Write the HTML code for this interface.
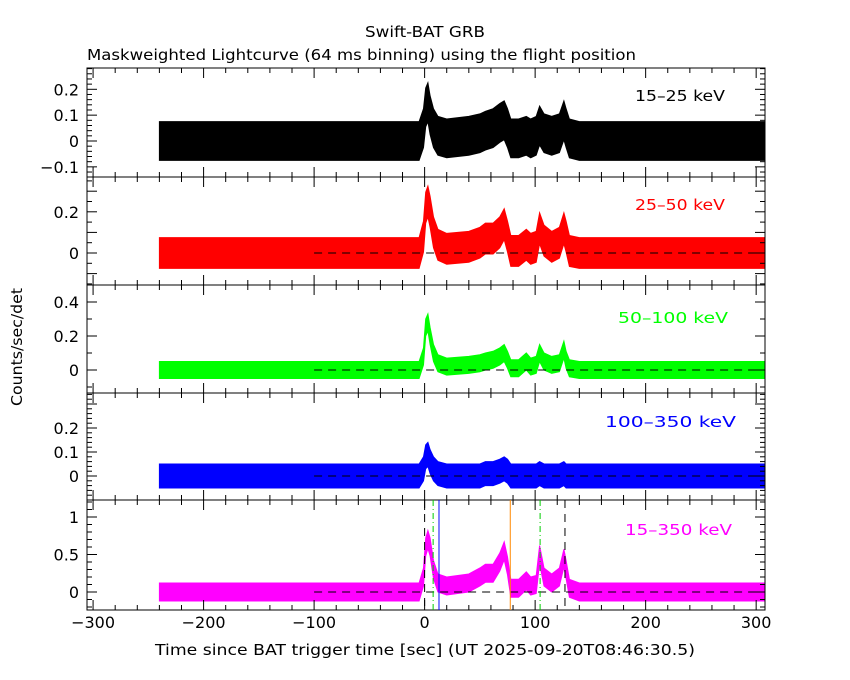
<!DOCTYPE html>
<html><head><meta charset="utf-8"><style>
body{margin:0;background:#fff;}
svg{display:block;font-family:"DejaVu Sans","Liberation Sans",sans-serif;}
</style></head><body>
<svg id="c" width="850" height="680" viewBox="0 0 850 680">
<text x="365" y="37" font-size="15" textLength="120" lengthAdjust="spacingAndGlyphs">Swift-BAT GRB</text>
<text x="87" y="60" font-size="15" textLength="549" lengthAdjust="spacingAndGlyphs">Maskweighted Lightcurve (64 ms binning) using the flight position</text>
<text transform="translate(22,347) rotate(-90)" font-size="15" text-anchor="middle" textLength="118" lengthAdjust="spacingAndGlyphs">Counts/sec/det</text>
<text x="155" y="655" font-size="15" textLength="540" lengthAdjust="spacingAndGlyphs">Time since BAT trigger time [sec] (UT 2025-09-20T08:46:30.5)</text>
</svg>
<script>
const T = [-240,-5,-1,1,3,5,8,12,20,40,50,55,62,68,72,75,78,85,92,96,101,104,108,115,122,126,128,131,140,308];
const m1525 = [0,0,0.05,0.13,0.15,0.1,0.05,0.02,0.01,0.02,0.03,0.04,0.05,0.07,0.08,0.05,0.01,0.01,0.02,0.01,0.02,0.06,0.03,0.02,0.03,0.08,0.05,0.01,0,0];
const m2550 = [0,0,0.08,0.22,0.25,0.2,0.1,0.04,0.02,0.03,0.05,0.07,0.07,0.1,0.14,0.08,0.01,0.01,0.04,0.02,0.03,0.12,0.06,0.03,0.05,0.12,0.08,0.01,0,0];
const m50100 = [0,0,0.08,0.25,0.28,0.2,0.1,0.04,0.02,0.03,0.04,0.05,0.06,0.08,0.1,0.06,0.01,0.01,0.05,0.02,0.03,0.1,0.05,0.03,0.04,0.12,0.06,0.01,0,0];
const m100350 = [0,0,0.03,0.08,0.09,0.06,0.03,0.01,0,0,0,0.01,0.01,0.02,0.03,0.02,0,0,0,0,0,0.01,0,0,0,0.01,0,0,0,0];
const m15350 = [0,0,0.2,0.6,0.7,0.6,0.3,0.12,0.08,0.12,0.2,0.25,0.25,0.4,0.55,0.35,0.05,0.05,0.15,0.08,0.1,0.5,0.2,0.12,0.2,0.45,0.3,0.05,0,0];
const noise = [0.075,0.075,0.05,0.05,0.12];
const bandLabels = ["15\u201325 keV","25\u201350 keV","50\u2013100 keV","100\u2013350 keV","15\u2013350 keV"];
const xTicks = [-300,-200,-100,0,100,200,300];
const markersDashed = [0,127];
const markersGreen = [7.7,104.5];
const markerBlue = 13;
const markerOrange = 77.5;

const svg = document.getElementById('c');
const NS = 'http://www.w3.org/2000/svg';
const X0 = 87, X1 = 765, TMIN = -305.5, TMAX = 308;
const xs = t => X0 + (t - TMIN) / (TMAX - TMIN) * (X1 - X0);
function mk(tag, attrs, parent){const e=document.createElementNS(NS,tag);for(const k in attrs)e.setAttribute(k,attrs[k]);(parent||svg).appendChild(e);return e;}

const panels = [
 {top:68,bot:177,zero:141,ppu:258.5,major:0.1,minor:0.02,labels:[-0.1,0,0.1,0.2],color:'#000',m:m1525,lx:635,ly:101,lw:90,zl:false},
 {top:177,bot:285,zero:253,ppu:206,major:0.1,minor:0.05,labels:[0,0.2],color:'#f00',m:m2550,lx:635,ly:210,lw:90,zl:true},
 {top:285,bot:393,zero:370,ppu:170,major:0.2,minor:0.1,labels:[0,0.2,0.4],color:'#0f0',m:m50100,lx:618,ly:323,lw:110,zl:true},
 {top:393,bot:500,zero:476,ppu:240,major:0.1,minor:0.02,labels:[0,0.1,0.2],color:'#00f',m:m100350,lx:605,ly:427,lw:131,zl:true},
 {top:500,bot:610,zero:592,ppu:75,major:0.5,minor:0.1,labels:[0,0.5,1],color:'#f0f',m:m15350,lx:625,ly:535,lw:107,zl:true}
];
const names=['15-25','25-50','50-100','100-350','15-350'];
panels.forEach((p,i)=>{
  const g = mk('g',{});
  
  
  const ys = v => p.zero - v*p.ppu;
  let up=[],lo=[];
  T.forEach((t,j)=>{up.push(xs(t).toFixed(1)+','+ys(p.m[j]+noise[i]).toFixed(1));lo.push(xs(t).toFixed(1)+','+ys(p.m[j]-noise[i]).toFixed(1));});
  const poly = mk('polygon',{points:up.concat(lo.reverse()).join(' '),fill:p.color,stroke:p.color,'stroke-width':1},g);
  
  
  if(p.zl){
    const zl = mk('line',{x1:xs(-100),x2:X1,y1:p.zero,y2:p.zero,stroke:'#000','stroke-dasharray':'8,6'},g);
    
    
  }
  const fr = mk('rect',{x:X0,y:p.top,width:X1-X0,height:p.bot-p.top,fill:'none',stroke:'#000'},g);
  
  
  for(let t=-300;t<=300;t+=20){
    const L = (t%100===0)?10:5;
    mk('line',{x1:xs(t),x2:xs(t),y1:p.top,y2:p.top+L,stroke:'#000'},g);
    mk('line',{x1:xs(t),x2:xs(t),y1:p.bot,y2:p.bot-L,stroke:'#000'},g);
  }
  const vmin=(p.zero-p.bot)/p.ppu, vmax=(p.zero-p.top)/p.ppu;
  for(let v=Math.ceil(vmin/p.minor)*p.minor; v<=vmax+1e-9; v+=p.minor){
    const isMaj = Math.abs(v/p.major-Math.round(v/p.major))<1e-6;
    const L=isMaj?10:5, y=ys(v);
    mk('line',{x1:X0,x2:X0+L,y1:y,y2:y,stroke:'#000'},g);
    mk('line',{x1:X1,x2:X1-L,y1:y,y2:y,stroke:'#000'},g);
  }
  p.labels.forEach(v=>{
    const t = mk('text',{x:X0-8,y:ys(v)+6,'font-size':16,'text-anchor':'end'},g);
    t.textContent = v<0?('\u2212'+Math.abs(v)):String(v);
    
    
  });
  const lb = mk('text',{x:p.lx,y:p.ly,'font-size':15,fill:p.color,textLength:p.lw,lengthAdjust:'spacingAndGlyphs'},g);
  lb.textContent = bandLabels[i];
  
  
});
const P=panels[4];
markersDashed.forEach(t=>{const l=mk('line',{x1:xs(t),x2:xs(t),y1:P.top,y2:P.bot,stroke:'#000','stroke-dasharray':'8,6'});
 
 });
markersGreen.forEach(t=>{const l=mk('line',{x1:xs(t),x2:xs(t),y1:P.top,y2:P.bot,stroke:'#0c0','stroke-dasharray':'6,3,1,3'});
 
 });
let lbm=mk('line',{x1:xs(markerBlue),x2:xs(markerBlue),y1:P.top,y2:P.bot,stroke:'#00f'});


let lom=mk('line',{x1:xs(markerOrange),x2:xs(markerOrange),y1:P.top,y2:P.bot,stroke:'#f80'});


xTicks.forEach(t=>{const tx=mk('text',{x:xs(t),y:628,'font-size':16,'text-anchor':'middle'});
 tx.textContent = t<0?('\u2212'+Math.abs(t)):String(t);
 
 });
</script>
</body></html>
